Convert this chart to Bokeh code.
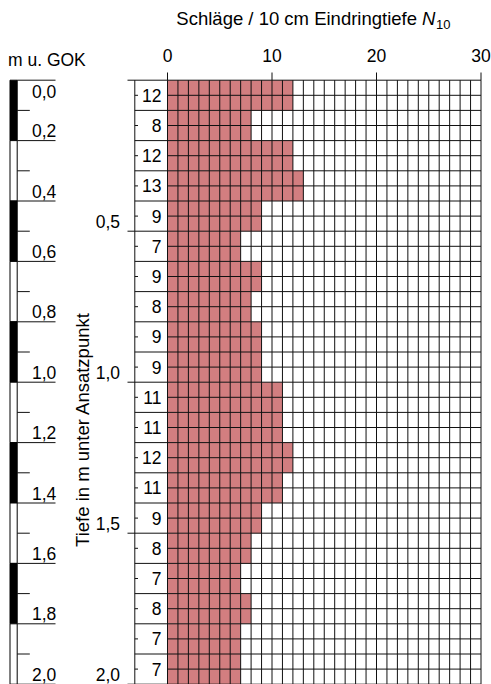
import math
from bokeh.plotting import figure
from bokeh.models import Range1d
from bokeh.core.properties import value
from bokeh.embed import file_html
from bokeh.resources import INLINE

# ---------------- data ----------------
layer_top = [0.0, 0.1, 0.2, 0.3, 0.4, 0.5, 0.6, 0.7, 0.8, 0.9,
             1.0, 1.1, 1.2, 1.3, 1.4, 1.5, 1.6, 1.7, 1.8, 1.9]
layer_bottom = [0.1, 0.2, 0.3, 0.4, 0.5, 0.6, 0.7, 0.8, 0.9, 1.0,
                1.1, 1.2, 1.3, 1.4, 1.5, 1.6, 1.7, 1.8, 1.9, 2.0]
blows = [12, 8, 12, 13, 9, 7, 9, 8, 9, 9, 11, 11, 12, 11, 9, 8, 7, 8, 7, 7]
blow_labels = [str(b) for b in blows]

x_ticks = [0, 10, 20, 30]
x_tick_labels = ["0", "10", "20", "30"]
depth_ticks = [0.5, 1.0, 1.5, 2.0]
depth_tick_labels = ["0,5", "1,0", "1,5", "2,0"]
gok_depths = [0.0, 0.2, 0.4, 0.6, 0.8, 1.0, 1.2, 1.4, 1.6, 1.8, 2.0]
gok_labels = ["0,0", "0,2", "0,4", "0,6", "0,8", "1,0", "1,2", "1,4", "1,6", "1,8", "2,0"]

title_main = "Schläge / 10 cm Eindringtiefe"
title_symbol = "N"
title_sub = "10"
depth_title = "Tiefe in m unter Ansatzpunkt"
gok_title = "m u. GOK"

x_max = 30
depth_max = 2.0

# ---------------- layout ----------------
W, H = 491, 684
X0PX, XSCALE = 167.0, 10.45      # pixel of N=0, pixels per blow
Y0PX, YSCALE = 79.7, 302.0       # pixel of depth 0, pixels per metre
FIX = 5.5                        # baseline correction (px)

FONT = value("Liberation Sans")
LBL = "17.5px"
TTL = "18.5px"
BAR_COLOR = "#d27e80"
LINE = "#111111"

p = figure(width=W, height=H,
           x_range=Range1d((0 - X0PX) / XSCALE, (W - X0PX) / XSCALE),
           y_range=Range1d((H - Y0PX) / YSCALE, (0 - Y0PX) / YSCALE),
           output_backend="svg", toolbar_location=None,
           x_axis_location=None, y_axis_location=None,
           min_border=0, outline_line_color=None)
p.grid.visible = False
p.background_fill_color = "white"
p.border_fill_color = "white"
p.extra_x_ranges = {"px": Range1d(0, W)}
p.extra_y_ranges = {"py": Range1d(H, 0)}

# bars
p.quad(left=[0] * len(blows), right=blows, top=layer_top, bottom=layer_bottom,
       fill_color=BAR_COLOR, line_color=None)

# grid
vx = list(range(0, x_max + 1))
p.segment(x0=vx, y0=[0] * len(vx), x1=vx, y1=[depth_max] * len(vx),
          line_color=LINE, line_width=1)
hy = [round(i * 0.05, 2) for i in range(0, 41)]
p.segment(x0=[0] * len(hy), y0=hy, x1=[x_max] * len(hy), y1=hy,
          line_color=LINE, line_width=1)

# top axis ticks and labels
p.segment(x0=x_ticks, y0=[72] * 4, x1=x_ticks, y1=[Y0PX] * 4,
          y_range_name="py", line_color=LINE, line_width=1)
p.text(x=x_ticks, y=[60 - FIX] * 4, text=x_tick_labels, y_range_name="py",
       text_align="center", text_baseline="alphabetic",
       text_font=FONT, text_font_size=LBL, text_color="black")

# title
p.text(x=[416.5], y=[23.3 - FIX], text=[title_main], x_range_name="px", y_range_name="py",
       text_align="right", text_baseline="alphabetic",
       text_font=FONT, text_font_size=TTL, text_color="black")
p.text(x=[421.5], y=[23.3 - FIX], text=[title_symbol], x_range_name="px", y_range_name="py",
       text_align="left", text_baseline="alphabetic", text_font_style="italic",
       text_font=FONT, text_font_size=TTL, text_color="black")
p.text(x=[435.5], y=[29.0 - FIX], text=[title_sub], x_range_name="px", y_range_name="py",
       text_align="left", text_baseline="alphabetic",
       text_font=FONT, text_font_size="13px", text_color="black")

# number column
p.segment(x0=[134.3], y0=[0], x1=[134.3], y1=[depth_max], x_range_name="px",
          line_color=LINE, line_width=1)
p.segment(x0=[127.0], y0=[0], x1=[X0PX], y1=[0], x_range_name="px",
          line_color=LINE, line_width=1)
row_lines = [d for d in layer_bottom if round(d * 10) % 5 != 0]
p.segment(x0=[134.3] * len(row_lines), y0=row_lines, x1=[X0PX] * len(row_lines), y1=row_lines,
          x_range_name="px", line_color=LINE, line_width=1)
p.segment(x0=[127.0] * len(depth_ticks), y0=depth_ticks, x1=[X0PX] * len(depth_ticks), y1=depth_ticks,
          x_range_name="px", line_color=LINE, line_width=1)
half = [round(t + 0.05, 2) for t in layer_top]
p.segment(x0=[134.3] * len(half), y0=half, x1=[137.5] * len(half), y1=half,
          x_range_name="px", line_color=LINE, line_width=1)
mids = [round((a + b) / 2, 3) for a, b in zip(layer_top, layer_bottom)]
p.text(x=[161.0] * len(mids), y=mids, text=blow_labels, x_range_name="px",
       text_align="right", text_baseline="middle",
       text_font=FONT, text_font_size=LBL, text_color="black")

# depth axis labels
p.text(x=[119.5] * len(depth_ticks), y=depth_ticks, text=depth_tick_labels, x_range_name="px",
       y_offset=-4.5 - FIX, text_align="right", text_baseline="alphabetic",
       text_font=FONT, text_font_size=LBL, text_color="black")
p.text(x=[87.0 - FIX], y=[429.0], text=[depth_title], x_range_name="px", y_range_name="py",
       angle=math.pi / 2, text_align="center", text_baseline="alphabetic",
       text_font=FONT, text_font_size=TTL, text_color="black")

# GOK scale
p.text(x=[7.5], y=[65.0 - FIX], text=[gok_title], x_range_name="px", y_range_name="py",
       text_align="left", text_baseline="alphabetic",
       text_font=FONT, text_font_size=LBL, text_color="black")
seg_top = gok_depths[:-1]
seg_bot = gok_depths[1:]
seg_fill = ["black" if i % 2 == 0 else "white" for i in range(len(seg_top))]
p.quad(left=[9.5] * len(seg_top), right=[16.7] * len(seg_top), top=seg_top, bottom=seg_bot,
       x_range_name="px", fill_color=seg_fill, line_color="black", line_width=1)
p.segment(x0=[16.7] * len(gok_depths), y0=gok_depths, x1=[55.0] * len(gok_depths), y1=gok_depths,
          x_range_name="px", line_color=LINE, line_width=1)
gok_half = [round(d + 0.1, 2) for d in seg_top]
p.segment(x0=[16.7] * len(gok_half), y0=gok_half, x1=[29.3] * len(gok_half), y1=gok_half,
          x_range_name="px", line_color=LINE, line_width=1)
gok_offsets = [17.0 - FIX if d == 0 else -4.5 - FIX for d in gok_depths]
p.text(x=[31.5] * len(gok_depths), y=gok_depths, text=gok_labels, x_range_name="px",
       y_offset=gok_offsets, text_align="left", text_baseline="alphabetic",
       text_font=FONT, text_font_size=LBL, text_color="black")

open("out.html", "w").write(file_html(p, INLINE))
